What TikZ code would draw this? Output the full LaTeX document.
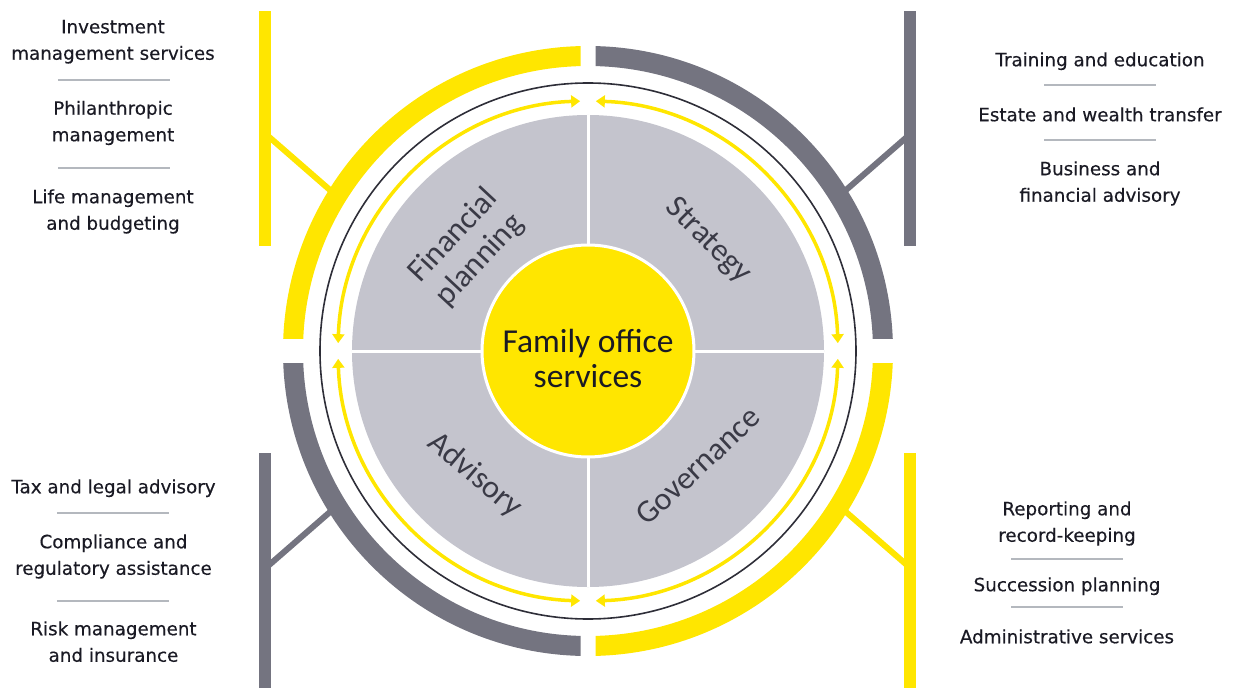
\documentclass[tikz,border=0pt]{standalone}
\usepackage{fontspec}
\setmainfont{DejaVu Sans}
\newfontfamily\sidefont[FakeBold=0.35]{DejaVu Sans}
\newfontfamily\calfont{Carlito}
\usetikzlibrary{arrows.meta}
\definecolor{eyyellow}{HTML}{FFE600}
\definecolor{eygray}{HTML}{747480}
\definecolor{quadgray}{HTML}{C4C4CD}
\definecolor{eytext}{HTML}{1A1A24}
\definecolor{quadtext}{HTML}{3A3A46}
\definecolor{seprule}{HTML}{B4B8BE}
\definecolor{ringdark}{HTML}{2E2E38}
\tikzset{
  sidetext/.style={anchor=north, inner sep=0pt, align=center, text=eytext,
    font=\sidefont\fontsize{18.3}{26.5}\selectfont},
  sepline/.style={draw=seprule, line width=1.2pt},
  quadlabel/.style={inner sep=0pt, align=center, text=quadtext,
    font=\calfont\fontsize{32}{36}\selectfont},
  cycarrow/.style={draw=eyyellow, line width=3.5pt,
    {Triangle[length=9pt,width=12pt]}-{Triangle[length=9pt,width=12pt]}},
  connector/.style={line width=6pt}
}
\begin{document}
\begin{tikzpicture}[x=1pt,y=1pt]
\useasboundingbox (-588,-337) rectangle (653,351);

% connectors from bars to ring
\coordinate (tlbar) at (-320,215);
\coordinate (tlring) at (-250,154);
\coordinate (trbar) at (320,215);
\coordinate (trring) at (250,154);
\coordinate (blbar) at (-320,-215);
\coordinate (blring) at (-250,-154);
\coordinate (brbar) at (320,-215);
\coordinate (brring) at (250,-154);
\draw[connector, eyyellow] (tlbar) -- (tlring);
\draw[connector, eygray] (trbar) -- (trring);
\draw[connector, eygray] (blbar) -- (blring);
\draw[connector, eyyellow] (brbar) -- (brring);

% vertical bars
\fill[eyyellow] (-329,105) rectangle (-317,340);
\fill[eygray] (316,105) rectangle (328,340);
\fill[eygray] (-329,-337) rectangle (-317,-102);
\fill[eyyellow] (316,-337) rectangle (328,-102);

% outer ring quadrants
\begin{scope}
  \clip (-400,12.5) rectangle (-7.5,400);
  \draw[eyyellow, line width=20pt] (0,0) circle[radius=295];
\end{scope}
\begin{scope}
  \clip (7.5,12.5) rectangle (400,400);
  \draw[eygray, line width=20pt] (0,0) circle[radius=295];
\end{scope}
\begin{scope}
  \clip (-400,-12.5) rectangle (-7.5,-400);
  \draw[eygray, line width=20pt] (0,0) circle[radius=295];
\end{scope}
\begin{scope}
  \clip (7.5,-12.5) rectangle (400,-400);
  \draw[eyyellow, line width=20pt] (0,0) circle[radius=295];
\end{scope}

% thin dark circle
\draw[ringdark, line width=1.6pt] (0,0) circle[radius=268];

% cycle arrows
\draw[cycarrow] (178.2:250) arc[start angle=178.2, end angle=91.8, radius=250];
\draw[cycarrow] (88.2:250) arc[start angle=88.2, end angle=1.8, radius=250];
\draw[cycarrow] (-1.8:250) arc[start angle=-1.8, end angle=-88.2, radius=250];
\draw[cycarrow] (-91.8:250) arc[start angle=-91.8, end angle=-178.2, radius=250];

% quadrant disk
\fill[quadgray] (0,0) circle[radius=236];
\draw[white, line width=3pt] (-236,0) -- (236,0);
\draw[white, line width=3pt] (0,-236) -- (0,236);
\filldraw[fill=eyyellow, draw=white, line width=3pt] (0,0) circle[radius=106];

\node[inner sep=0pt, align=center, text=eytext, font=\calfont\fontsize{33.5}{35}\selectfont]
  (centre) at (0,-7) {Family office\\services};

\node[quadlabel, rotate=47] (finplan) at (-121,103) {Financial\\planning};
\node[quadlabel, rotate=-45] (strategy) at (120,110) {Strategy};
\node[quadlabel, rotate=-40] (advisory) at (-113,-124) {Advisory};
\node[quadlabel, rotate=43] (governance) at (110,-115) {Governance};

% left top column
\node[sidetext] (lt1) at (-475,336.5) {\strut Investment\\management services};
\draw[sepline] (-530,271) -- (-418,271);
\node[sidetext] (lt2) at (-475,255) {\strut Philanthropic\\management};
\draw[sepline] (-530,183) -- (-418,183);
\node[sidetext] (lt3) at (-475,166.5) {\strut Life management\\and budgeting};

% right top column
\node[sidetext] (rt1) at (512,303.5) {\strut Training and education};
\draw[sepline] (456,266) -- (568,266);
\node[sidetext] (rt2) at (512,248.5) {\strut Estate and wealth transfer};
\draw[sepline] (456,211) -- (568,211);
\node[sidetext] (rt3) at (512,194.5) {\strut Business and\\financial advisory};

% left bottom column
\node[sidetext] (lb1) at (-474.5,-123.5) {\strut Tax and legal advisory};
\draw[sepline] (-531,-162) -- (-419,-162);
\node[sidetext] (lb2) at (-474.5,-178.5) {\strut Compliance and\\regulatory assistance};
\draw[sepline] (-531,-250) -- (-419,-250);
\node[sidetext] (lb3) at (-474.5,-265.5) {\strut Risk management\\and insurance};

% right bottom column
\node[sidetext] (rb1) at (479,-145.5) {\strut Reporting and\\record-keeping};
\draw[sepline] (423,-208) -- (535,-208);
\node[sidetext] (rb2) at (479,-221.5) {\strut Succession planning};
\draw[sepline] (423,-256) -- (535,-256);
\node[sidetext] (rb3) at (479,-273.5) {\strut Administrative services};
\end{tikzpicture}
\end{document}
